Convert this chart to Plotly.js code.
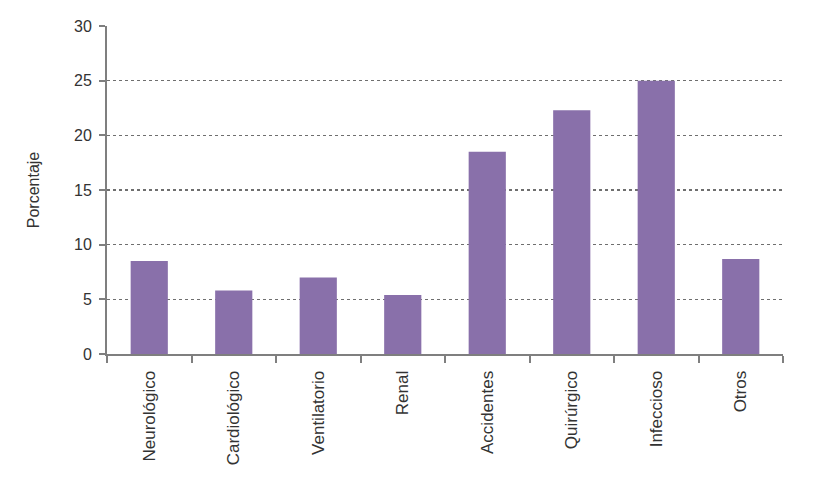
<!DOCTYPE html>
<html>
<head>
<meta charset="utf-8">
<script src="https://cdn.plot.ly/plotly-3.0.1.min.js"></script>
<style>html,body{margin:0;padding:0;background:#fff;}#chart{width:833px;height:495px;}</style>
</head>
<body>
<div id="chart"></div>
<script>
const categories = ["Neurológico","Cardiológico","Ventilatorio","Renal","Accidentes","Quirúrgico","Infeccioso","Otros"];
const values = [8.5, 5.8, 7.0, 5.4, 18.5, 22.3, 25.0, 8.7];
const yTicks = [0, 5, 10, 15, 20, 25, 30];

const trace = {
  type: "bar",
  x: categories,
  y: values,
  marker: {color: "#8970aa"},
  hoverinfo: "x+y"
};

const layout = {
  width: 833,
  height: 495,
  margin: {l: 107, r: 50, t: 26, b: 141},
  paper_bgcolor: "#ffffff",
  plot_bgcolor: "#ffffff",
  showlegend: false,
  bargap: 0.56,
  font: {family: "Liberation Sans, Arial, sans-serif", color: "#333333", size: 16},
  xaxis: {
    type: "category",
    tickangle: -90,
    showline: true,
    linecolor: "#7f7f7f",
    linewidth: 2,
    ticks: "outside",
    tickson: "boundaries",
    ticklen: 7,
    tickcolor: "#7f7f7f",
    tickwidth: 2,
    showgrid: false,
    ticklabelstandoff: 8,
    tickfont: {size: 17, color: "#333333"}
  },
  yaxis: {
    range: [0, 30],
    tickvals: yTicks,
    showline: true,
    linecolor: "#7f7f7f",
    linewidth: 2,
    ticks: "outside",
    ticklen: 6,
    tickcolor: "#7f7f7f",
    tickwidth: 2,
    showgrid: true,
    gridcolor: "#6f6f6f",
    gridwidth: 1.3,
    griddash: "dot",
    zeroline: false,
    ticklabelstandoff: 4,
    tickfont: {size: 16, color: "#333333"},
    title: {text: "Porcentaje", font: {size: 16, color: "#333333"}, standoff: 30}
  }
};

Plotly.newPlot("chart", [trace], layout, {displayModeBar: false, staticPlot: true});
</script>
</body>
</html>
